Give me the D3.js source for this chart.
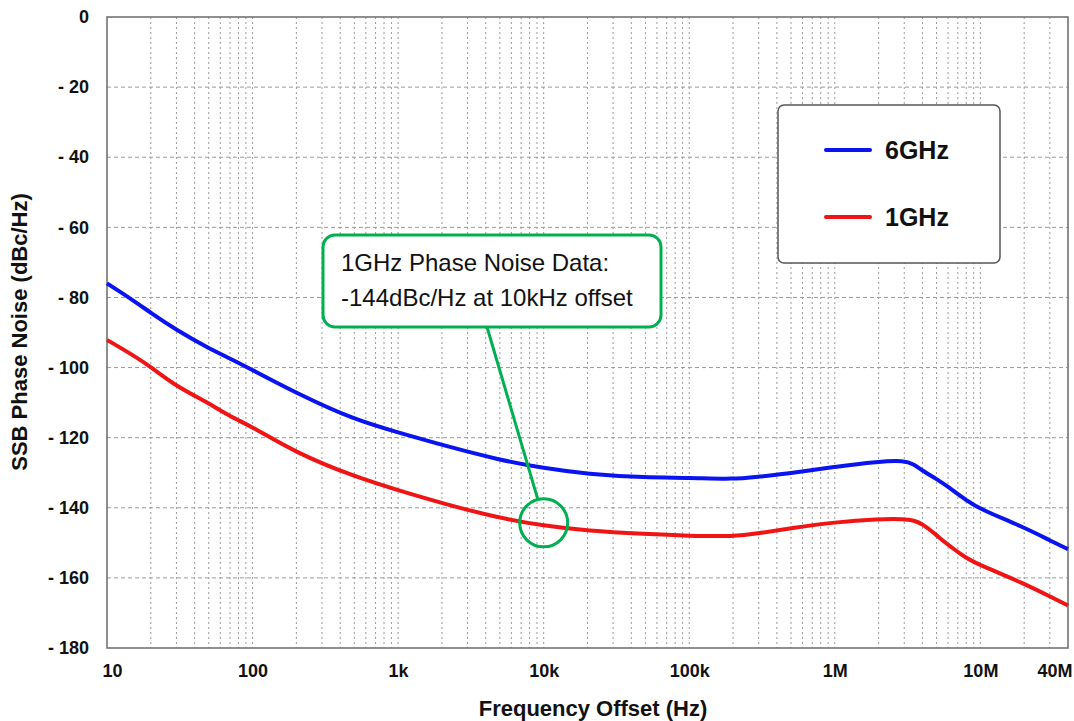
<!DOCTYPE html>
<html lang="en">
<head>
  <meta charset="UTF-8">
  <title>SSB Phase Noise</title>
  <script src="https://d3js.org/d3.v7.min.js"></script>
  <style>
    body {
      margin: 0;
      font-family: "Liberation Sans", Arial, sans-serif;
      background: #fff;
    }
  </style>
</head>
<body>
  <svg id="chart" width="1074" height="721"></svg>

<script>
const freqs = [10, 15, 20, 30, 50, 70, 100, 200, 500, 1e3, 2e3, 5e3, 1e4, 2e4, 5e4, 1e5,
  2e5, 3e5, 5e5, 1e6, 2e6, 3e6, 3.5e6, 4e6, 5e6, 6e6, 8e6, 1e7, 2e7, 3e7, 4e7];

// SSB phase noise, dBc/Hz
const noise6GHz = [-76, -80.7, -84.4, -89.3, -94.5, -97.4, -100.7, -107.3, -114.9, -118.5, -122.1,
  -126.4, -128.7, -130.4, -131.4, -131.4, -131.9, -131.1, -130.2, -128.3, -126.8, -126.5,
  -127.6, -129.4, -131.8, -134, -137.9, -140.4, -145.6, -149.3, -151.8];
const noise1GHz = [-92.1, -96.4, -99.8, -105.4, -110.1, -114, -116.9, -124.4, -131.1, -135, -138.7,
  -143, -145.1, -146.6, -147.5, -148, -148.2, -147.3, -145.8, -144.1, -143.2, -143.2,
  -143.6, -144.6, -147.8, -150.6, -154.4, -156.4, -161.6, -165.3, -167.9];

const seriesNames = ["6GHz", "1GHz"];
const seriesColors = ["#0a14f0", "#f01414"];

const xTickValues = [10, 100, 1e3, 1e4, 1e5, 1e6, 1e7, 4e7];
const xTickLabels = ["10", "100", "1k", "10k", "100k", "1M", "10M", "40M"];
const yTickValues = [0, -20, -40, -60, -80, -100, -120, -140, -160, -180];

const calloutLines = ["1GHz Phase Noise Data:", "-144dBc/Hz at 10kHz offset"];

const svg = d3.select("#chart");
const margin = { top: 17, right: 6, bottom: 73, left: 107 };
const width = +svg.attr("width");
const height = +svg.attr("height");

const x = d3.scaleLog()
  .domain([10, 4e7])
  .range([margin.left, width - margin.right]);

const y = d3.scaleLinear()
  .domain([-180, 0])
  .range([height - margin.bottom, margin.top]);

// Grid lines: dashed horizontal, dotted vertical at every 1..9 of each decade
const minorTicks = [];
for (let p = 1; p <= 7; p++) {
  for (let m = 1; m <= 9; m++) {
    const v = m * Math.pow(10, p);
    if (v > 10 && v < 4e7) minorTicks.push(v);
  }
}

svg.append("g")
  .selectAll("line")
  .data(minorTicks)
  .enter()
  .append("line")
  .attr("x1", d => x(d))
  .attr("x2", d => x(d))
  .attr("y1", y(0))
  .attr("y2", y(-180))
  .attr("stroke", "#9a9a9a")
  .attr("stroke-width", 1)
  .attr("stroke-dasharray", "2,3");

svg.append("g")
  .selectAll("line")
  .data(yTickValues.filter(d => d !== 0 && d !== -180))
  .enter()
  .append("line")
  .attr("x1", x(10))
  .attr("x2", x(4e7))
  .attr("y1", d => y(d))
  .attr("y2", d => y(d))
  .attr("stroke", "#9a9a9a")
  .attr("stroke-width", 1)
  .attr("stroke-dasharray", "4,3");

// Plot frame
svg.append("rect")
  .attr("x", x(10))
  .attr("y", y(0))
  .attr("width", x(4e7) - x(10))
  .attr("height", y(-180) - y(0))
  .attr("fill", "none")
  .attr("stroke", "#6b6b6b")
  .attr("stroke-width", 1.5);

// Y axis labels
const yAxis = d3.axisLeft(y)
  .tickValues(yTickValues)
  .tickSize(0)
  .tickPadding(18)
  .tickFormat(d => d === 0 ? "0" : "- " + Math.abs(d));

svg.append("g")
  .attr("transform", `translate(${margin.left},0)`)
  .call(yAxis)
  .call(g => g.select(".domain").remove())
  .selectAll("text")
  .attr("font-family", "Liberation Sans, Arial, sans-serif")
  .attr("font-weight", "bold")
  .attr("font-size", 18)
  .attr("fill", "#111");

// X axis labels
const xAxis = d3.axisBottom(x)
  .tickValues(xTickValues)
  .tickSize(0)
  .tickPadding(16)
  .tickFormat((d, i) => xTickLabels[i]);

svg.append("g")
  .attr("transform", `translate(0,${height - margin.bottom})`)
  .call(xAxis)
  .call(g => g.select(".domain").remove())
  .selectAll("text")
  .attr("font-family", "Liberation Sans, Arial, sans-serif")
  .attr("font-weight", "bold")
  .attr("font-size", 18)
  .attr("fill", "#111")
  .attr("text-anchor", d => d === 4e7 ? "end" : "middle")
  .attr("dx", d => d === 4e7 ? 4 : (d === 10 ? 5 : 0));

// Axis titles
svg.append("text")
  .attr("x", 593)
  .attr("y", 716)
  .attr("text-anchor", "middle")
  .attr("font-weight", "bold")
  .attr("font-size", 22)
  .attr("fill", "#111")
  .text("Frequency Offset (Hz)");

svg.append("text")
  .attr("transform", `translate(27,332) rotate(-90)`)
  .attr("text-anchor", "middle")
  .attr("font-weight", "bold")
  .attr("font-size", 22)
  .attr("fill", "#111")
  .text("SSB Phase Noise (dBc/Hz)");

// Curves
const lineGen = d3.line()
  .x(d => x(d[0]))
  .y(d => y(d[1]))
  .curve(d3.curveBasis);

[noise6GHz, noise1GHz].forEach((vals, i) => {
  svg.append("path")
    .datum(freqs.map((f, k) => [f, vals[k]]))
    .attr("fill", "none")
    .attr("stroke", seriesColors[i])
    .attr("stroke-width", 4)
    .attr("stroke-linejoin", "round")
    .attr("d", lineGen);
});

// Legend
const legend = svg.append("g");
legend.append("rect")
  .attr("x", 778)
  .attr("y", 105)
  .attr("width", 222)
  .attr("height", 158)
  .attr("rx", 6)
  .attr("fill", "#fff")
  .attr("stroke", "#555")
  .attr("stroke-width", 1.5);

seriesNames.forEach((name, i) => {
  const ly = 150 + i * 67;
  legend.append("line")
    .attr("x1", 826)
    .attr("x2", 870)
    .attr("y1", ly)
    .attr("y2", ly)
    .attr("stroke", seriesColors[i])
    .attr("stroke-width", 4)
    .attr("stroke-linecap", "round");
  legend.append("text")
    .attr("x", 885)
    .attr("y", ly + 9)
    .attr("font-weight", "bold")
    .attr("font-size", 25)
    .attr("fill", "#111")
    .text(name);
});

// Callout pointing at the 1GHz curve at 10kHz
const green = "#00b050";
const cx = x(1e4), cy = y(-144.3);

svg.append("line")
  .attr("x1", 487)
  .attr("y1", 327)
  .attr("x2", cx - 6)
  .attr("y2", cy - 24)
  .attr("stroke", green)
  .attr("stroke-width", 3);

svg.append("circle")
  .attr("cx", cx)
  .attr("cy", cy)
  .attr("r", 24)
  .attr("fill", "none")
  .attr("stroke", green)
  .attr("stroke-width", 3);

svg.append("rect")
  .attr("x", 323)
  .attr("y", 235)
  .attr("width", 338)
  .attr("height", 92)
  .attr("rx", 12)
  .attr("fill", "#fff")
  .attr("stroke", green)
  .attr("stroke-width", 3);

calloutLines.forEach((t, i) => {
  svg.append("text")
    .attr("x", 341)
    .attr("y", 271 + i * 35)
    .attr("font-size", 24)
    .attr("fill", "#111")
    .text(t);
});
</script>
</body>
</html>
